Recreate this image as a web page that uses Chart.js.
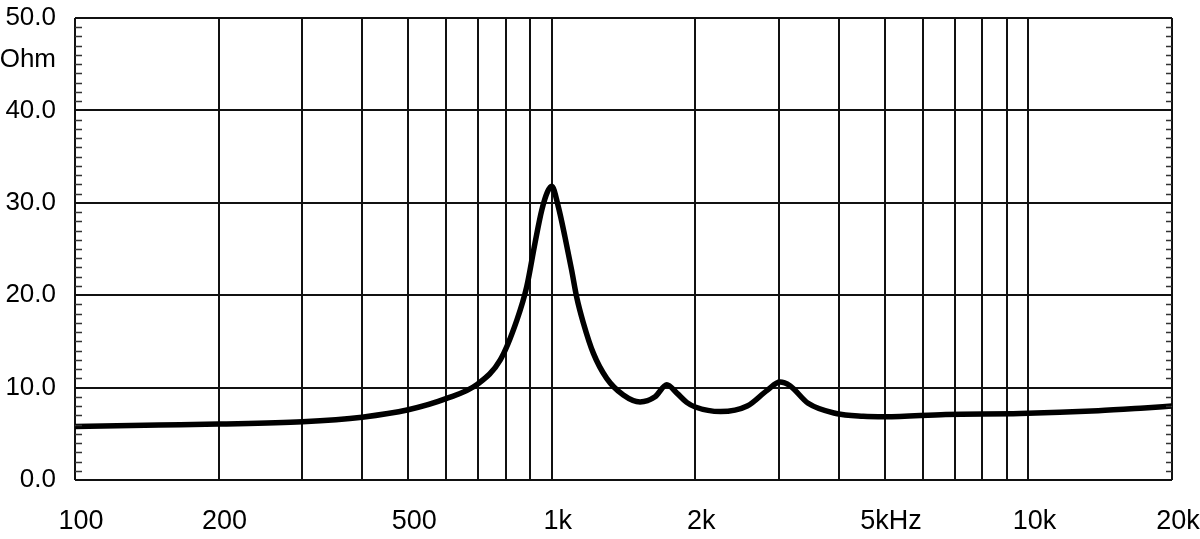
<!DOCTYPE html>
<html>
<head>
<meta charset="utf-8">
<script src="https://cdn.jsdelivr.net/npm/chart.js@4/dist/chart.umd.min.js"></script>
<style>
  html, body { margin: 0; padding: 0; background: #fff; }
  #wrap { width: 1200px; height: 539px; position: relative; }
</style>
</head>
<body>
<div id="wrap"><canvas id="impedance-chart"></canvas></div>
<script>
// impedance curve (Hz, Ohm)
const freqs = [100, 150, 200, 300, 400, 500, 600, 700, 780, 845, 886, 922, 953, 980, 1000,
    1032, 1066, 1101, 1128, 1165, 1223, 1304, 1413, 1532, 1647, 1743, 1830, 1919, 2000, 2260,
    2570, 2830, 3010, 3160, 3450, 3950, 4500, 5000, 6700, 9600, 14000, 17500, 20000];
const ohms = [5.8, 5.95, 6.05, 6.3, 6.8, 7.6, 8.8, 10.4, 13.0, 17.3, 20.9, 25.6, 29.2, 31.2, 31.8,
    29.6, 26.3, 22.7, 19.8, 17.0, 13.7, 11.0, 9.2, 8.45, 9.0, 10.3, 9.4, 8.4, 7.9, 7.4,
    8.0, 9.7, 10.6, 10.2, 8.3, 7.2, 6.9, 6.85, 7.1, 7.2, 7.5, 7.8, 8.0];

// axis ticks
const gridFreqs = [100, 200, 300, 400, 500, 600, 700, 800, 900, 1000,
    2000, 3000, 4000, 5000, 6000, 7000, 8000, 9000, 10000, 20000];
const freqLabels = { 100: '100', 200: '200', 500: '500', 1000: '1k', 2000: '2k',
    5000: '5kHz', 10000: '10k', 20000: '20k' };
const ohmTicks = [0, 10, 20, 30, 40, 45.5, 50];
const ohmLabels = { 0: '0.0', 10: '10.0', 20: '20.0', 30: '30.0', 40: '40.0', 45.5: 'Ohm', 50: '50.0' };

const font = 'Liberation Sans, Arial, Helvetica, sans-serif';

// small 1-ohm ticks on the inside of the left and right frame
const minorTicks = {
    id: 'minorTicks',
    afterDatasetsDraw(chart) {
        const { ctx, chartArea } = chart;
        const y = chart.scales.y;
        ctx.save();
        ctx.strokeStyle = '#333';
        ctx.lineWidth = 1.5;
        for (let v = 1; v < 50; v++) {
            if (v % 10 === 0) continue;
            const py = Math.round(y.getPixelForValue(v)) + 0.5;
            ctx.beginPath();
            ctx.moveTo(chartArea.left, py);
            ctx.lineTo(chartArea.left + 7, py);
            ctx.moveTo(chartArea.right, py);
            ctx.lineTo(chartArea.right - 6, py);
            ctx.stroke();
        }
        ctx.restore();
    }
};

function noAutoPadding(scale) {
    scale.paddingTop = 0;
    scale.paddingBottom = 0;
    scale.paddingLeft = 0;
    scale.paddingRight = 0;
}

const ctx = document.getElementById('impedance-chart').getContext('2d');
new Chart(ctx, {
    type: 'line',
    data: {
        datasets: [{
            data: freqs.map((f, i) => ({ x: f, y: ohms[i] })),
            borderColor: '#000',
            borderWidth: 5.5,
            pointRadius: 0,
            fill: false,
            cubicInterpolationMode: 'monotone'
        }]
    },
    options: {
        responsive: true,
        maintainAspectRatio: false,
        animation: false,
        layout: { padding: { top: 18, right: 28, left: 0, bottom: 0 } },
        scales: {
            x: {
                type: 'logarithmic',
                min: 100,
                max: 20000,
                afterBuildTicks: scale => { scale.ticks = gridFreqs.map(v => ({ value: v })); },
                afterFit: scale => { scale.height = 59; noAutoPadding(scale); },
                grid: { color: '#111', lineWidth: 2, drawTicks: false },
                border: { display: false },
                ticks: {
                    autoSkip: false,
                    maxRotation: 0,
                    padding: 25,
                    labelOffset: 6,
                    color: '#000',
                    font: { family: font, size: 27 },
                    callback: v => freqLabels[v] || ''
                }
            },
            y: {
                min: 0,
                max: 50,
                afterBuildTicks: scale => { scale.ticks = ohmTicks.map(v => ({ value: v })); },
                afterFit: scale => { scale.width = 75; noAutoPadding(scale); },
                grid: {
                    color: c => (c.tick && c.tick.value === 45.5) ? 'rgba(0,0,0,0)' : '#111',
                    lineWidth: 2,
                    drawTicks: false
                },
                border: { display: false },
                ticks: {
                    padding: 19,
                    color: '#000',
                    font: { family: font, size: 26 },
                    callback: v => ohmLabels[v] || ''
                }
            }
        },
        plugins: {
            legend: { display: false },
            tooltip: { enabled: false }
        }
    },
    plugins: [minorTicks]
});
</script>
</body>
</html>
